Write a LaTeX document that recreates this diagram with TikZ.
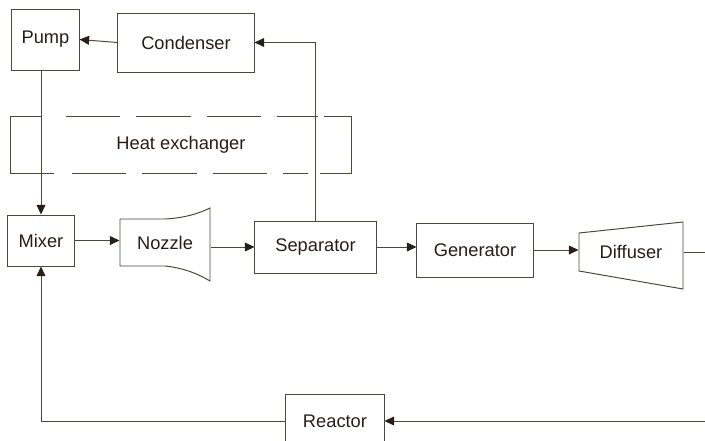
\documentclass[tikz,border=0pt]{standalone}
\usepackage{fontspec}
\setmainfont{Liberation Sans}
\usetikzlibrary{positioning, arrows.meta, calc}
\definecolor{cL}{RGB}{70,75,60}
\definecolor{cT}{RGB}{40,30,25}

\begin{document}
\begin{tikzpicture}[x=0.025cm, y=-0.025cm,
                    line width=0.7pt, color=cL,
                    font=\fontsize{13}{15}\selectfont,
                    every node/.style={text=cT},
                    unit/.style={draw=cL, line width=0.7pt, rectangle, inner sep=0pt},
                    ghost/.style={rectangle, inner sep=0pt},
                    hxdash/.style={dash pattern=on 1.35cm off 0.4cm},
                    flow/.style={-{Triangle[length=2.4mm, width=2.2mm, color=cT]}}]
    \useasboundingbox (0,0) rectangle (705,441);
    \clip (0,0) rectangle (705,441);

    % Units
    \node[unit, minimum width=1.675cm, minimum height=1.525cm] (pump) at (45.5,39.5) {Pump};
    \node[unit, minimum width=3.4cm, minimum height=1.475cm] (cond) at (186,42.5) {Condenser};
    \node[ghost, minimum width=8.5cm, minimum height=1.4cm] (hx) at (181,145) {Heat exchanger};
    \node[unit, minimum width=1.65cm, minimum height=1.275cm] (mixer) at (41,240.5) {Mixer};
    \node[ghost, minimum width=2.25cm, minimum height=1.825cm] (nozzle) at (165,243) {Nozzle};
    \node[unit, minimum width=3.025cm, minimum height=1.3cm] (sep) at (315.5,247) {Separator};
    \node[unit, minimum width=2.9cm, minimum height=1.35cm] (gen) at (475,250) {Generator};
    \node[ghost, minimum width=2.6cm, minimum height=1.675cm] (diff) at (631,252) {Diffuser};
    \node[unit, minimum width=2.45cm, minimum height=1.35cm] (reactor) at (335,421) {Reactor};
    \coordinate (dout) at (705,252);
    \coordinate (rin) at (705,421);

    % Heat exchanger outline (dashed top and bottom)
    \draw ([xshift=0.8cm]hx.north west) -- (hx.north west) -- (hx.south west) -- ([xshift=1.1cm]hx.south west);
    \draw ([xshift=-0.7cm]hx.north east) -- (hx.north east) -- (hx.south east) -- ([xshift=-0.8cm]hx.south east);
    \draw[hxdash] ([xshift=1.4cm]hx.north west) -- ([xshift=-0.85cm]hx.north east);
    \draw[hxdash] ([xshift=1.55cm]hx.south west) -- ([xshift=-1.1cm]hx.south east);

    % Nozzle and diffuser outlines
    \draw (120,219) -- (165,219) .. controls (185,218) and (200,213) .. (210,208)
          -- (210,281) .. controls (200,275) and (185,268) .. (165,266) -- (120,266) -- cycle;
    \draw (579,233) -- (683,222) -- (683,289) -- (579,271) -- cycle;

    % Flows
    \draw[flow] (cond.west) -- (pump.east);
    \draw[flow] (sep.north) |- (cond.east);
    \draw[flow] (pump.south -| mixer.north) -- (mixer.north);
    \draw[flow] (mixer.east) -- (mixer.east -| nozzle.west);
    \draw[flow] (sep.west -| nozzle.east) -- (sep.west);
    \draw[flow] (sep.east) -- (sep.east -| gen.west);
    \draw[flow] (gen.east) -- (gen.east -| diff.west);
    \draw (diff.east) -- (dout);
    \draw[flow] (rin) -- (reactor.east);
    \draw[flow] (reactor.west) -| (mixer.south);

\end{tikzpicture}
\end{document}
